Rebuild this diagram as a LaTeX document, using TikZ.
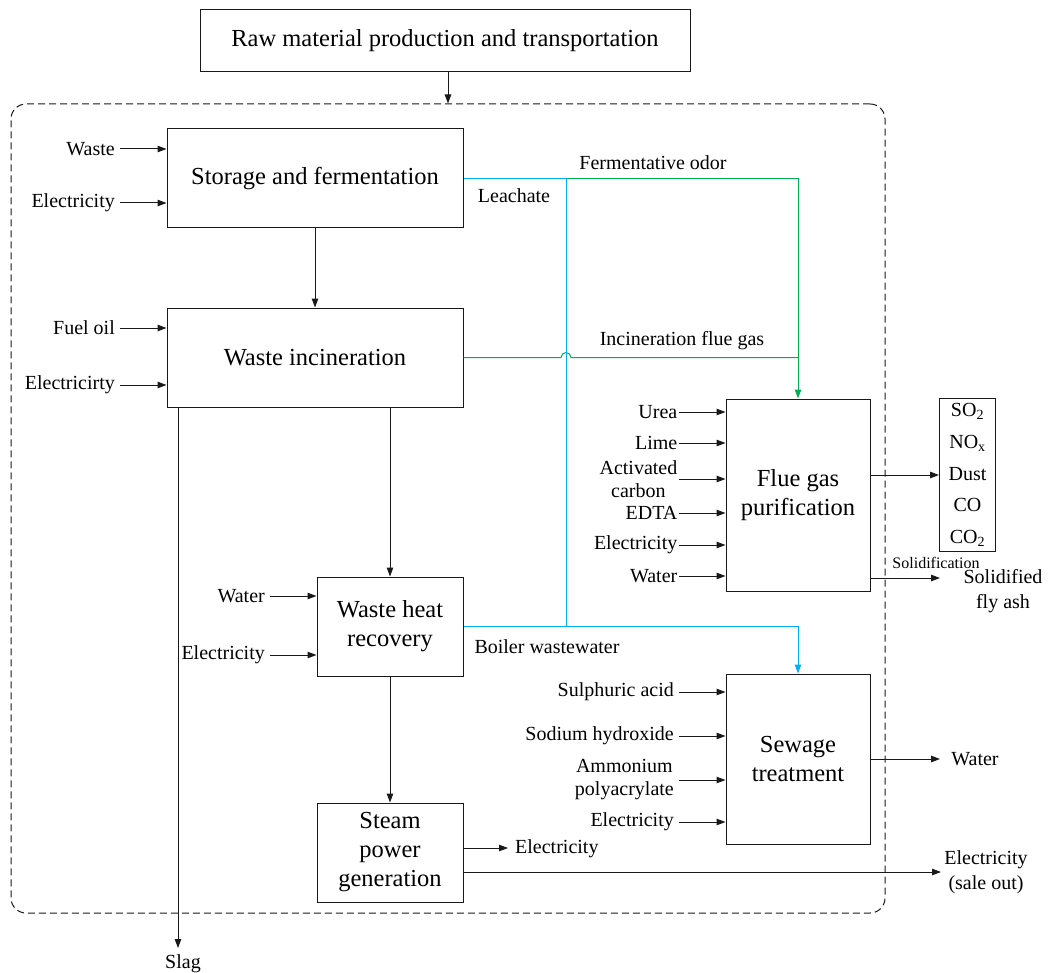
\documentclass[tikz,border=0pt]{standalone}
\usepackage{fontspec}
\setmainfont{Liberation Serif}
\usetikzlibrary{arrows.meta,calc}
\definecolor{lgreen}{RGB}{0,176,80}
\definecolor{lblue}{RGB}{0,176,240}
\definecolor{lnc}{RGB}{25,25,25}
\begin{document}
\begin{tikzpicture}[x=1pt,y=-1pt,
  box/.style={draw=lnc, line width=1pt, inner sep=0pt, align=center, font=\fontsize{24.5}{29}\selectfont},
  arr/.style={draw=lnc, line width=1pt, -{Triangle[length=9pt,width=6.5pt]}},
  grn/.style={draw=lgreen, line width=1pt},
  blu/.style={draw=lblue, line width=1pt},
  lab/.style={anchor=east, inner xsep=5pt, inner ysep=0pt, align=center, font=\fontsize{20}{23}\selectfont},
  labt/.style={anchor=east, inner xsep=1.5pt, inner ysep=0pt, align=center, font=\fontsize{20}{23}\selectfont},
  txt/.style={inner sep=0pt, align=center, font=\fontsize{20}{25}\selectfont},
  small/.style={inner sep=0pt, font=\fontsize{16}{18}\selectfont}
]
\useasboundingbox (0,0) rectangle (1048,973);

% system boundary
\node[draw=lnc, line width=1pt, dash pattern=on 7pt off 4pt, rounded corners=15pt,
      minimum width=874, minimum height=809, inner sep=0pt] (sys) at (448,508.5) {};

% boxes
\node[box, minimum width=490, minimum height=62] (raw) at (445,41) {Raw material production and transportation};
\node[box, minimum width=296, minimum height=99] (sf) at (315,178.5) {\raisebox{-2pt}{Storage and fermentation}};
\node[box, minimum width=296, minimum height=99] (wi) at (315,357.5) {\raisebox{-2pt}{Waste incineration}};
\node[box, minimum width=146, minimum height=99] (whr) at (390,626.5) {Waste heat\\recovery};
\node[box, minimum width=146, minimum height=99] (spg) at (390,852.5) {Steam\\power\\generation};
\node[box, minimum width=144, minimum height=192] (fg) at (798,495) {Flue gas\\purification};
\node[box, minimum width=144, minimum height=170] (sew) at (798,759) {Sewage\\treatment};
\node[draw=lnc, line width=1pt, inner sep=0pt, align=center, minimum width=56, minimum height=153,
      font=\fontsize{20}{31.75}\selectfont] (em) at (967.5,475)
      {SO\textsubscript{2}\\NO\textsubscript{x}\\Dust\\CO\\CO\textsubscript{2}};

% main flow
\draw[arr] (raw.south -| 448,0) -- (sys.north -| 448,0);
\draw[arr] (sf.south) -- (wi.north);
\coordinate (wx) at (390,0);
\draw[arr] (wi.south -| wx) -- (whr.north);
\draw[arr] (whr.south) -- (spg.north);

% left inputs
\node[lab] (i1) at (120,149) {Waste};
\node[lab] (i2) at (120,203) {Electricity};
\node[lab] (i3) at (120,328) {Fuel oil};
\node[lab] (i4) at (120,385) {Electricirty};
\node[lab] (i5) at (270,596) {Water};
\node[lab] (i6) at (270,655) {Electricity};
\draw[arr] (i1.east) -- (sf.west |- i1.east);
\draw[arr] (i2.east) -- (sf.west |- i2.east);
\draw[arr] (i3.east) -- (wi.west |- i3.east);
\draw[arr] (i4.east) -- (wi.west |- i4.east);
\draw[arr] (i5.east) -- (whr.west |- i5.east);
\draw[arr] (i6.east) -- (whr.west |- i6.east);

% slag
\coordinate (slx) at (178,0);
\coordinate (sle) at (178,948);
\node[txt] (slag) at (183,964) {Slag};
\draw[arr] (wi.south -| slx) -- (sle);

% flue gas inputs
\node[labt] (f1) at (679,412) {Urea};
\node[labt] (f2) at (679,443) {Lime};
\node[labt] (f3) at (679,479) {Activated\\carbon};
\node[labt] (f4) at (679,513) {EDTA};
\node[labt] (f5) at (679,545) {Electricity};
\node[labt] (f6) at (679,576) {Water};
\foreach \n in {f1,f2,f3,f4,f5,f6} \draw[arr] (\n.east) -- (fg.west |- \n.east);

% sewage inputs
\node[lab] (s1) at (679,692) {Sulphuric acid};
\node[lab] (s2) at (679,736) {Sodium hydroxide};
\node[lab] (s3) at (679,780) {Ammonium\\polyacrylate};
\node[lab] (s4) at (679,822) {Electricity};
\foreach \n in {s1,s2,s3,s4} \draw[arr] (\n.east) -- (sew.west |- \n.east);

% outputs
\draw[arr] (fg.east |- em.west) -- (em.west);
\coordinate (sy) at (0,578);
\coordinate (se) at (940,578);
\draw[arr] (fg.east |- sy) -- (se);
\node[small] (sol) at (936,563) {Solidification};
\node[txt] (sfa) at (1003,591) {Solidified\\fly ash};

\coordinate (we) at (940,759);
\draw[arr] (sew.east) -- (we);
\node[txt] (wo) at (975,759) {Water};

\coordinate (e1y) at (0,848);
\coordinate (e1e) at (508,848);
\draw[arr] (spg.east |- e1y) -- (e1e);
\node[txt, anchor=west] (e1) at (515,849) {Electricity};

\coordinate (e2y) at (0,872);
\coordinate (e2e) at (941,872);
\draw[arr] (spg.east |- e2y) -- (e2e);
\node[txt] (e2) at (986,872) {Electricity\\(sale out)};

% green: fermentative odor and flue gas
\coordinate (lx) at (566,0);
\draw[grn, -{Triangle[length=9pt,width=6.5pt]}] (sf.east) -- (sf.east -| fg.north) -- (fg.north);
\draw[grn] (wi.east) -- ($(wi.east -| lx)+(-5,0)$) arc(180:360:5) -- (wi.east -| fg.north);
% blue: leachate and boiler wastewater
\draw[blu] (sf.east) -- (sf.east -| lx) -- (whr.east -| lx);
\draw[blu, -{Triangle[length=9pt,width=6.5pt]}] (whr.east) -- (whr.east -| sew.north) -- (sew.north);

% line labels
\node[txt] (lfo) at (653,163) {Fermentative odor};
\node[txt] (lle) at (514,196) {Leachate};
\node[txt] (lif) at (682,341) {Incineration flue gas};
\node[txt] (lbw) at (547,647) {Boiler wastewater};
\end{tikzpicture}
\end{document}
